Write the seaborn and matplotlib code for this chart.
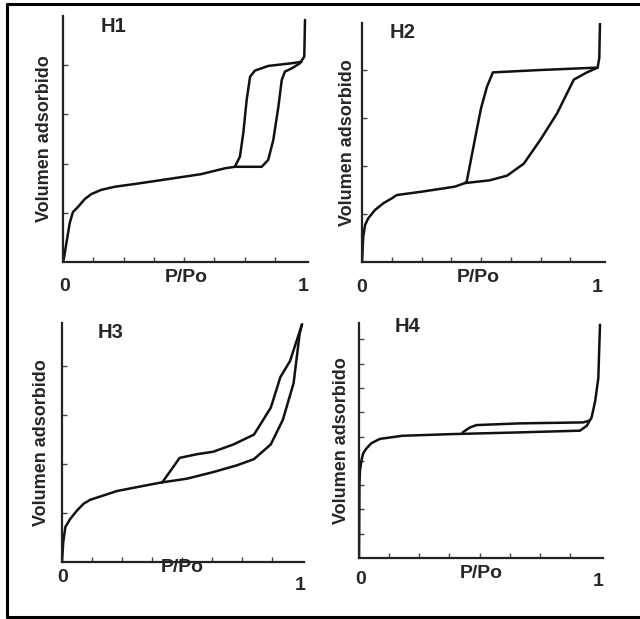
import matplotlib
matplotlib.use("Agg")
import matplotlib.pyplot as plt
import seaborn as sns
import numpy as np
from matplotlib.lines import Line2D

sns.set_theme(style="white")
plt.rcParams['font.family'] = ['Liberation Sans', 'DejaVu Sans']

# ---- data (relative pressure P/Po vs. adsorbed volume, arbitrary units) ----
h1_ads_x = [0, 0.004, 0.014, 0.028, 0.041, 0.062, 0.09, 0.117, 0.157, 0.214, 0.296, 0.434, 0.57, 0.67, 0.71,
            0.821, 0.848, 0.869, 0.89, 0.904, 0.917, 0.945, 0.979, 0.997, 1.0]
h1_ads_y = [0.0, 0.016, 0.077, 0.159, 0.203, 0.224, 0.256, 0.276, 0.293, 0.306, 0.317, 0.337, 0.357, 0.381, 0.387,
            0.387, 0.415, 0.496, 0.631, 0.74, 0.774, 0.787, 0.808, 0.835, 0.984]
h1_des_x = [0.986, 0.945, 0.848, 0.793, 0.773, 0.759, 0.745, 0.731, 0.71]
h1_des_y = [0.814, 0.808, 0.797, 0.778, 0.753, 0.659, 0.524, 0.428, 0.387]

h2_ads_x = [0, 0.001, 0.005, 0.013, 0.026, 0.055, 0.09, 0.125, 0.146, 0.251, 0.39, 0.433, 0.535, 0.61, 0.68,
            0.75, 0.82, 0.89, 0.945, 0.99, 0.997, 1.0]
h2_ads_y = [0.0, 0.015, 0.105, 0.154, 0.182, 0.217, 0.245, 0.265, 0.279, 0.293, 0.314, 0.329, 0.34, 0.36, 0.41,
            0.51, 0.62, 0.76, 0.79, 0.81, 0.85, 1.0]
h2_des_x = [0.99, 0.75, 0.55, 0.525, 0.50, 0.48, 0.44, 0.433]
h2_des_y = [0.81, 0.80, 0.79, 0.73, 0.64, 0.54, 0.335, 0.329]

h3_ads_x = [0, 0.005, 0.014, 0.035, 0.0625, 0.09, 0.118, 0.23, 0.41, 0.52, 0.63, 0.73, 0.80, 0.87, 0.92, 0.965, 0.99, 1.0]
h3_ads_y = [0.0, 0.08, 0.143, 0.177, 0.21, 0.238, 0.254, 0.29, 0.324, 0.34, 0.367, 0.395, 0.42, 0.48, 0.58, 0.73, 0.93, 0.97]
h3_des_x = [1.0, 0.95, 0.91, 0.87, 0.80, 0.715, 0.63, 0.5625, 0.49, 0.465, 0.417]
h3_des_y = [0.97, 0.82, 0.755, 0.63, 0.52, 0.48, 0.45, 0.44, 0.425, 0.39, 0.324]

h4_ads_x = [0, 0.002, 0.004, 0.01, 0.017, 0.03, 0.051, 0.086, 0.18, 0.39, 0.67, 0.917, 0.945, 0.965, 0.98, 0.993, 1.0]
h4_ads_y = [0.0, 0.306, 0.36, 0.40, 0.43, 0.45, 0.472, 0.49, 0.503, 0.51, 0.517, 0.524, 0.544, 0.578, 0.646, 0.74, 0.96]
h4_des_x = [0.955, 0.93, 0.667, 0.4875, 0.46, 0.43]
h4_des_y = [0.565, 0.558, 0.554, 0.547, 0.537, 0.517]

panel_titles = ["H1", "H2", "H3", "H4"]
x_label = "P/Po"
y_label = "Volumen adsorbido"
x_tick_labels = ["0", "1"]

W, H = 640, 619
fig = plt.figure(figsize=(W / 100, H / 100), dpi=100)
fig.patch.set_facecolor("white")

# outer frame (left, top, bottom)
lw_frame = 2.2
fig.add_artist(Line2D([7 / W, 7 / W], [1 - 3.5 / H, 1 - 617 / H], transform=fig.transFigure, color="black", lw=lw_frame))
fig.add_artist(Line2D([7 / W, 1.0], [1 - 3.5 / H, 1 - 3.5 / H], transform=fig.transFigure, color="black", lw=lw_frame))
fig.add_artist(Line2D([7 / W, 1.0], [1 - 617 / H, 1 - 617 / H], transform=fig.transFigure, color="black", lw=lw_frame))

# per panel: x0 pixel, x at value 1, bottom pixel, pixel at y=1, spine top pixel, x-spine end pixel
panels = [
    dict(x0=63, x1=305, yb=262, yt=16, spine_top=16, xend=308, yticks=np.arange(0.2, 0.9, 0.2),
         title=(113, 27), plab=(186, 278), lab0=(65, 286), lab1=(303, 286), ylab=45,
         ads=(h1_ads_x, h1_ads_y), des=(h1_des_x, h1_des_y)),
    dict(x0=362, x1=600, yb=262, yt=22, spine_top=23, xend=605, yticks=np.arange(0.2, 0.9, 0.2),
         title=(403, 32), plab=(478, 278), lab0=(362, 287), lab1=(597, 287), ylab=347,
         ads=(h2_ads_x, h2_ads_y), des=(h2_des_x, h2_des_y)),
    dict(x0=62, x1=302, yb=562, yt=317, spine_top=323, xend=304, yticks=np.arange(0.2, 0.9, 0.2),
         title=(111, 332), plab=(182, 568), lab0=(63, 578), lab1=(300, 585), ylab=42,
         ads=(h3_ads_x, h3_ads_y), des=(h3_des_x, h3_des_y)),
    dict(x0=359, x1=600, yb=558, yt=315, spine_top=323, xend=603, yticks=np.arange(0.1, 0.95, 0.1),
         title=(408, 327), plab=(481, 573), lab0=(361, 580), lab1=(598, 582), ylab=342,
         ads=(h4_ads_x, h4_ads_y), des=(h4_des_x, h4_des_y)),
]

for p, title in zip(panels, panel_titles):
    xspan = p["x1"] - p["x0"]
    yspan = p["yb"] - p["yt"]
    xmax = (p["xend"] - p["x0"]) / xspan
    ymax = (p["yb"] - p["spine_top"]) / yspan
    left = p["x0"] / W
    bottom = 1 - p["yb"] / H
    width = (p["xend"] - p["x0"]) / W
    height = (p["yb"] - p["spine_top"]) / H
    ax = fig.add_axes([left, bottom, width, height])
    ax.set_facecolor("none")
    ax.set_xlim(0, xmax)
    ax.set_ylim(0, ymax)

    sns.lineplot(x=p["ads"][0], y=p["ads"][1], sort=False, estimator=None, ax=ax, color="#111111", lw=1.8)
    sns.lineplot(x=p["des"][0], y=p["des"][1], sort=False, estimator=None, ax=ax, color="#111111", lw=1.8)

    for s in ["top", "right"]:
        ax.spines[s].set_visible(False)
    for s in ["left", "bottom"]:
        ax.spines[s].set_visible(True)
        ax.spines[s].set_color("#222222")
        ax.spines[s].set_linewidth(1.6)

    ax.set_xticks(np.arange(0.125, 0.9, 0.125))
    ax.set_yticks(p["yticks"])
    ax.tick_params(axis="both", which="both", direction="in", length=3.5, width=1, color="#444444",
                   labelbottom=False, labelleft=False, bottom=True, left=True)
    ax.grid(False)

    def px(xp, yp):
        return xp / W, 1 - yp / H

    fig.text(*px(*p["title"]), title, ha="center", va="center", fontsize=14.5, fontweight="bold")
    fig.text(*px(*p["plab"]), x_label, ha="center", va="center", fontsize=14, fontweight="bold")
    fig.text(*px(*p["lab0"]), x_tick_labels[0], ha="center", va="center", fontsize=14, fontweight="bold")
    fig.text(*px(*p["lab1"]), x_tick_labels[1], ha="center", va="center", fontsize=14, fontweight="bold")
    fig.text(p["ylab"] / W, 1 - ((p["yb"] + p["spine_top"]) / 2) / H, y_label, rotation=90,
             ha="center", va="center", fontsize=13, fontweight="bold")

fig.savefig("out.png", dpi=100, facecolor="white")
